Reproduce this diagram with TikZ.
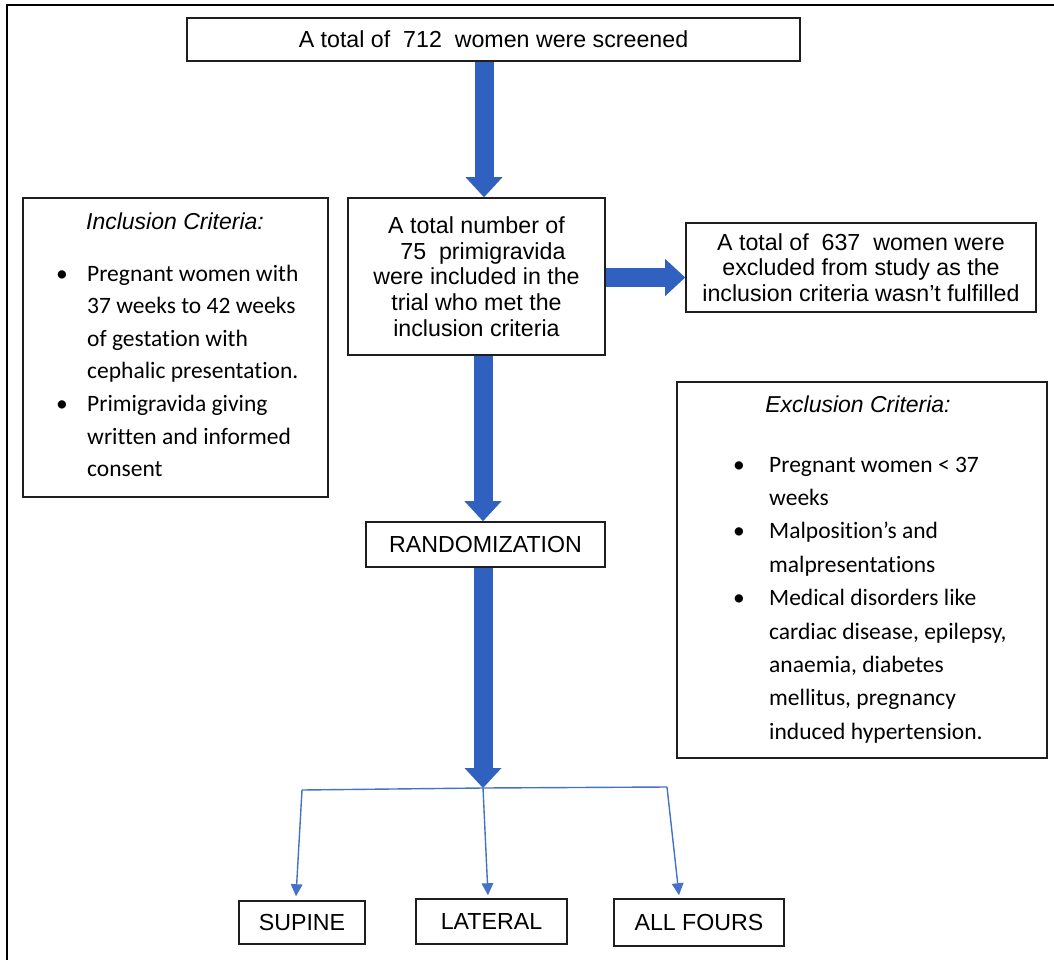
\documentclass[tikz,border=0pt]{standalone}
\usepackage{fontspec}
\setmainfont{Liberation Sans}
\newfontfamily\calibri[Ligatures=NoCommon]{Carlito}
\usetikzlibrary{arrows.meta}
\definecolor{barrow}{RGB}{48,96,192}
\definecolor{tline}{RGB}{68,114,196}
\definecolor{bline}{RGB}{30,30,30}
\begin{document}
\begin{tikzpicture}[x=1pt,y=-1pt,
  box/.style={draw=bline, line width=1.6pt, inner sep=0pt, align=center,
    font=\fontsize{23.2}{25.7}\selectfont},
  critbox/.style={draw=bline, line width=1.6pt, inner sep=0pt},
  crit/.style={font=\calibri\fontsize{23.5}{32.6}\selectfont, align=left, inner sep=0pt, anchor=base west},
  critx/.style={font=\calibri\fontsize{23.5}{33.4}\selectfont, align=left, inner sep=0pt, anchor=base west},
  head/.style={font=\itshape\fontsize{23}{26}\selectfont, inner sep=0pt, anchor=base},
  blockarrow/.style={barrow, line width=19pt,
    -{Triangle[width=37pt,length=20pt,line width=0pt]}},
  thinarrow/.style={tline, line width=1.4pt,
    -{Triangle[width=12pt,length=12pt,line width=0pt]}},
  thinline/.style={tline, line width=1.4pt}
]
\useasboundingbox (0,0) rectangle (1054,960);
\fill[white] (0,0) rectangle (1054,960);
\draw[line width=2pt] (7,960) -- (7,5) -- (1054,5);

% main boxes
\node[box, minimum width=613pt, minimum height=43pt] (top) at (493.5,39.5)
  {A total of\ \ 712\ \ women were screened};
\node[box, minimum width=257pt, minimum height=157pt] (b2) at (476.5,276.5)
  {A total number of\\\ \ 75\ \ primigravida\\were included in the\\trial who met the\\inclusion criteria};
\node[box, minimum width=350pt, minimum height=89pt] (b3) at (861,267.5)
  {A total of\ \ 637\ \ women were\\excluded from study as the\\inclusion criteria wasn’t fulfilled};
\node[box, minimum width=239pt, minimum height=45pt] (rand) at (485.5,544.5)
  {RANDOMIZATION};
\node[box, minimum width=126pt, minimum height=43pt] (sup) at (302,922.5) {SUPINE};
\node[box, minimum width=151pt, minimum height=45pt] (lat) at (491.5,921.5) {LATERAL};
\node[box, minimum width=170pt, minimum height=47pt] (all) at (699,922.5) {ALL FOURS};

% inclusion criteria (anchor = baseline of last line)
\node[critbox, minimum width=305pt, minimum height=299pt] (inc) at (175.5,347.5) {};
\node[head] (inch) at (175,229) {Inclusion Criteria:};
\node[crit] (incl) at (56,476.6)
  {\makebox[31pt][l]{•}Pregnant women with\\
   \hspace*{31pt}37 weeks to 42 weeks\\
   \hspace*{31pt}of gestation with\\
   \hspace*{31pt}cephalic presentation.\\
   \makebox[31pt][l]{•}Primigravida giving\\
   \hspace*{31pt}written and informed\\
   \hspace*{31pt}consent};

% exclusion criteria (anchor = baseline of last line)
\node[critbox, minimum width=370pt, minimum height=376pt] (exc) at (862,570) {};
\node[head] (exch) at (858,412) {Exclusion Criteria:};
\node[critx] (excl) at (733,739.2)
  {\makebox[36pt][l]{•}Pregnant women < 37\\
   \hspace*{36pt}weeks\\
   \makebox[36pt][l]{•}Malposition’s and\\
   \hspace*{36pt}malpresentations\\
   \makebox[36pt][l]{•}Medical disorders like\\
   \hspace*{36pt}cardiac disease, epilepsy,\\
   \hspace*{36pt}anaemia, diabetes\\
   \hspace*{36pt}mellitus, pregnancy\\
   \hspace*{36pt}induced hypertension.};

% block arrows
\coordinate (jc) at (483,788);
\coordinate (jl) at (302,790);
\coordinate (jr) at (667,787);
\draw[blockarrow] ([xshift=-9.5pt]top.south) -- ([xshift=7.5pt]b2.north);
\draw[blockarrow] ([yshift=-1pt]b2.east) -- ([yshift=-1pt]b2.east -| b3.west);
\draw[blockarrow] ([xshift=6.5pt]b2.south) -- ([xshift=-2.5pt]rand.north);
\draw[blockarrow] ([xshift=-2.5pt]rand.south) -- (jc);

% branches
\draw[thinline] (jl) -- (jc) -- (jr);
\draw[thinarrow] (jl) -- ([xshift=-6pt,yshift=4pt]sup.north);
\draw[thinarrow] (jc) -- ([xshift=-3.5pt,yshift=3pt]lat.north);
\draw[thinarrow] (jr) -- ([xshift=-20pt,yshift=3pt]all.north);
\end{tikzpicture}
\end{document}
